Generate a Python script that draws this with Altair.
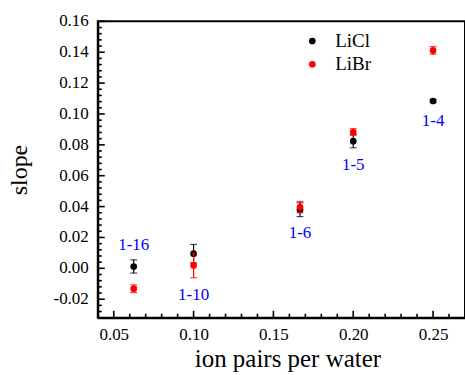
import altair as alt
import pandas as pd

# Ion pairs per water for each composition (1:16, 1:10, 1:6, 1:5, 1:4)
ratio = [1 / 16, 1 / 10, 1 / 6, 1 / 5, 1 / 4]

licl_slope = [0.0012, 0.0095, 0.0380, 0.0824, 0.1084]
licl_err = [0.0043, 0.0060, 0.0045, 0.0043, 0.0010]

libr_slope = [-0.0132, 0.0019, 0.0397, 0.0883, 0.1412]
libr_err = [0.0025, 0.0080, 0.0037, 0.0022, 0.0025]

comp_labels = ["1-16", "1-10", "1-6", "1-5", "1-4"]
label_y = [0.0149, -0.0175, 0.0229, 0.0667, 0.0954]

series = ["LiCl", "LiBr"]
series_colors = ["#000000", "#ff0000"]

x_major = [0.05, 0.10, 0.15, 0.20, 0.25]
x_minor = [0.04, 0.06, 0.07, 0.08, 0.09, 0.11, 0.12, 0.13, 0.14, 0.16,
           0.17, 0.18, 0.19, 0.21, 0.22, 0.23, 0.24, 0.26]
y_major = [-0.02, 0.00, 0.02, 0.04, 0.06, 0.08, 0.10, 0.12, 0.14, 0.16]
y_tick_text = ["-0.02", "0.00", "0.02", "0.04", "0.06", "0.08", "0.10", "0.12", "0.14", "0.16"]
y_minor = [-0.032, -0.028, -0.024, -0.016, -0.012, -0.008, -0.004,
           0.004, 0.008, 0.012, 0.016, 0.024, 0.028, 0.032, 0.036,
           0.044, 0.048, 0.052, 0.056, 0.064, 0.068, 0.072, 0.076,
           0.084, 0.088, 0.092, 0.096, 0.104, 0.108, 0.112, 0.116,
           0.124, 0.128, 0.132, 0.136, 0.144, 0.148, 0.152, 0.156]

FONT = "Liberation Serif, Times New Roman, DejaVu Serif, serif"
W, H = 368, 297

rows = []
for salt, vals, errs in (("LiCl", licl_slope, licl_err), ("LiBr", libr_slope, libr_err)):
    for r, v, e in zip(ratio, vals, errs):
        rows.append({"salt": salt, "ratio": r, "slope": v, "lo": v - e, "hi": v + e})
df = pd.DataFrame(rows)

xs = alt.Scale(domain=[0.04, 0.27], nice=False, zero=False)
ys = alt.Scale(domain=[-0.032, 0.16], nice=False, zero=False)
cs = alt.Scale(domain=series, range=series_colors)

x_axis = alt.Axis(values=x_major, format=".2f", ticks=False, grid=False,
                  labelOverlap=False, labelFlush=False,
                  domainColor="black", domainWidth=2, labelFont=FONT,
                  labelFontSize=17, labelColor="black", labelPadding=9,
                  title="ion pairs per water", titleFont=FONT, titleFontSize=25,
                  titleFontWeight="normal", titleColor="black", titlePadding=4,
                  titleX=190, titleAnchor="middle")
# y tick labels are drawn as a text layer below; the axis keeps line and title
y_axis = alt.Axis(values=y_major, labels=False, ticks=False, grid=False,
                  domainColor="black", domainWidth=2,
                  title="slope", titleFont=FONT, titleFontSize=24,
                  titleFontWeight="normal", titleColor="black", titlePadding=66)

base = alt.Chart(df)
color = alt.Color("salt:N", scale=cs, legend=None)

bars = base.mark_rule(strokeWidth=1.2).encode(
    x=alt.X("ratio:Q", scale=xs, axis=x_axis),
    y=alt.Y("lo:Q", scale=ys, axis=y_axis),
    y2="hi:Q",
    color=color,
)
caps_lo = base.mark_tick(orient="horizontal", size=7, thickness=1.2).encode(
    x=alt.X("ratio:Q", scale=xs), y=alt.Y("lo:Q", scale=ys), color=color,
)
caps_hi = base.mark_tick(orient="horizontal", size=7, thickness=1.2).encode(
    x=alt.X("ratio:Q", scale=xs), y=alt.Y("hi:Q", scale=ys), color=color,
)
points = base.mark_point(filled=True, size=45, opacity=1, shape="circle").encode(
    x=alt.X("ratio:Q", scale=xs), y=alt.Y("slope:Q", scale=ys), color=color,
)

layers = []
for salt in series:
    sel = alt.datum.salt == salt
    layers += [bars.transform_filter(sel), caps_lo.transform_filter(sel),
               caps_hi.transform_filter(sel), points.transform_filter(sel)]

lab_df = pd.DataFrame({"ratio": ratio, "y": label_y, "txt": comp_labels})
labels = alt.Chart(lab_df).mark_text(font=FONT, fontSize=17, color="#0000ff").encode(
    x=alt.X("ratio:Q", scale=xs), y=alt.Y("y:Q", scale=ys), text="txt:N"
)

ytext = alt.Chart(pd.DataFrame({"v": y_major, "t": y_tick_text})).mark_text(
    font=FONT, fontSize=17, color="black", align="right", baseline="middle"
).encode(y=alt.Y("v:Q", scale=ys), x=alt.value(-9), text="t:N")

# legend: one row per salt
legend_layers = []
for i, (name, col) in enumerate(zip(series, series_colors)):
    ly = 19.7 + 23.3 * i
    legend_layers.append(
        alt.Chart(pd.DataFrame({"name": [name]})).mark_point(
            filled=True, size=45, opacity=1, shape="circle", color=col
        ).encode(x=alt.value(215), y=alt.value(ly))
    )
    legend_layers.append(
        alt.Chart(pd.DataFrame({"name": [name]})).mark_text(
            font=FONT, fontSize=19, color="black", align="left", baseline="middle"
        ).encode(x=alt.value(238), y=alt.value(ly), text="name:N")
    )

# inward-pointing tick marks on bottom and left axes
xmaj = alt.Chart(pd.DataFrame({"v": x_major})).mark_rule(color="black", strokeWidth=1.6).encode(
    x=alt.X("v:Q", scale=xs), y=alt.value(H), y2=alt.value(H - 7))
xmin = alt.Chart(pd.DataFrame({"v": x_minor})).mark_rule(color="black", strokeWidth=1.6).encode(
    x=alt.X("v:Q", scale=xs), y=alt.value(H), y2=alt.value(H - 4))
ymaj = alt.Chart(pd.DataFrame({"v": y_major})).mark_rule(color="black", strokeWidth=1.6).encode(
    y=alt.Y("v:Q", scale=ys), x=alt.value(0), x2=alt.value(7))
ymin = alt.Chart(pd.DataFrame({"v": y_minor})).mark_rule(color="black", strokeWidth=1.6).encode(
    y=alt.Y("v:Q", scale=ys), x=alt.value(0), x2=alt.value(4))

chart = alt.layer(*layers, labels, ytext, xmaj, xmin, ymaj, ymin, *legend_layers).properties(
    width=W, height=H,
    autosize=alt.AutoSizeParams(type="none"),
    padding={"left": 98, "top": 21, "right": 0, "bottom": 57},
    background="white",
).configure_view(
    stroke="black", strokeWidth=2
).configure_axis(
    labelFont=FONT, titleFont=FONT, labelColor="black",
    titleColor="black", titleFontWeight="normal"
)

chart.save("out.html", embed_options={"renderer": "svg", "actions": False})
